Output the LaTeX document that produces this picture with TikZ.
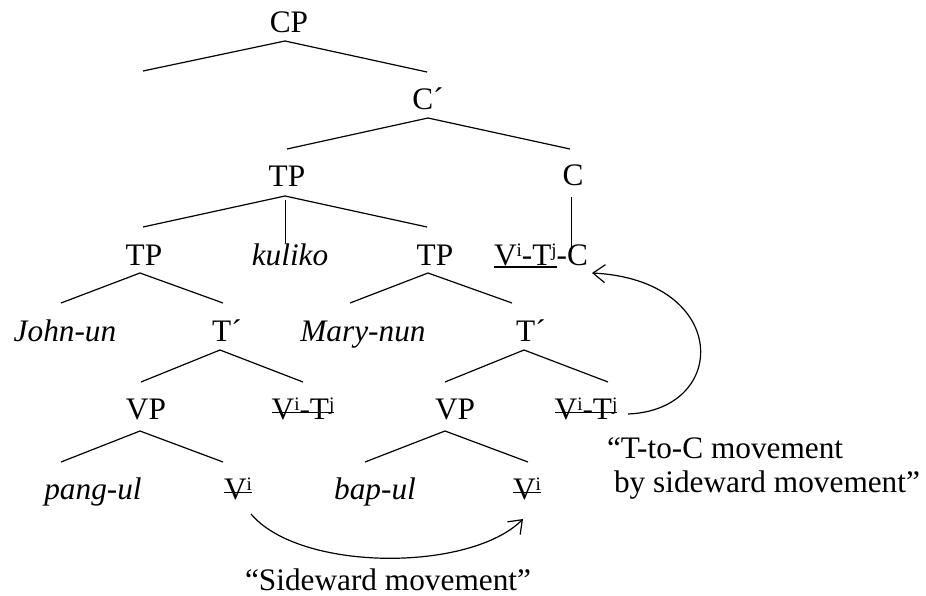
\documentclass[tikz,border=0pt]{standalone}
\usepackage{fontspec}
\setmainfont{Liberation Serif}
\usetikzlibrary{arrows.meta,calc}
\newsavebox\stbox
\newcommand\sups[1]{\raisebox{8.5pt}{\fontsize{19}{19}\selectfont #1}}
\newcommand\strk[1]{\sbox\stbox{#1}\rlap{\usebox\stbox}\rule[6pt]{\wd\stbox}{1.5pt}}
\newcommand\undl[1]{\sbox\stbox{#1}\rlap{\usebox\stbox}\rule[-3pt]{\wd\stbox}{1.6pt}}
\begin{document}
\begin{tikzpicture}[x=1pt,y=-1pt,
  every node/.style={inner sep=0pt,outer sep=0pt,font=\fontsize{31.3}{34}\selectfont},
  lab/.style={anchor=base},
  br/.style={line width=1.2pt},
  mv/.style={line width=1.2pt,-{Straight Barb[length=12pt,width=18pt,line width=1.2pt]}}]
\useasboundingbox (0,0) rectangle (926,596);
% nodes
\node[lab] (cp) at (289,33) {CP};
\node[lab] (cbar) at (428,110) {C´};
\node[lab] (tp) at (287,187) {TP};
\node[lab] (c) at (573,186) {C};
\node[lab] (tpL) at (144,265) {TP};
\node[lab] (kuliko) at (290,265) {\itshape kuliko};
\node[lab] (tpR) at (435,265) {TP};
\node[anchor=base west] (vtc) at (494,265) {\undl{V\sups{i}-T\sups{j}}-C};
\node[lab] (john) at (65,341) {\itshape John-un};
\node[lab] (tbarL) at (227,341) {T´};
\node[lab] (mary) at (363,341) {\itshape Mary-nun};
\node[lab] (tbarR) at (531,341) {T´};
\node[lab] (vpL) at (146,419) {VP};
\node[lab] (vtL) at (303,419) {\strk{V\sups{i}-T\sups{j}}};
\node[lab] (vpR) at (455,419) {VP};
\node[lab] (vtR) at (586,419) {\strk{V\sups{i}-T\sups{j}}};
\node[lab] (pang) at (93,499) {\itshape pang-ul};
\node[lab] (vL) at (238,499) {\strk{V\sups{i}}};
\node[lab] (bap) at (375,499) {\itshape bap-ul};
\node[lab] (vR) at (527,499) {\strk{V\sups{i}}};
\node[anchor=base west] (tc1) at (607,458) {“T-to-C movement};
\node[anchor=base west] (tc2) at (614,492) {by sideward movement”};
\node[lab] (side) at (388,590) {“Sideward movement”};
\coordinate (cpspec) at (143,71);
% branches
\draw[br] ([xshift=-4pt,yshift=-8pt]cp.base) -- (cpspec);
\draw[br] ([xshift=-4pt,yshift=-8pt]cp.base) -- ([xshift=-1pt,yshift=38pt]cbar.base);
\draw[br] ([yshift=-8pt]cbar.base) -- ([yshift=38pt]tp.base);
\draw[br] ([yshift=-8pt]cbar.base) -- ([xshift=-3pt,yshift=37pt]c.base);
\draw[br] ([xshift=-2pt,yshift=-9pt]tp.base) -- ([xshift=-1pt,yshift=38pt]tpL.base);
\draw[br] ([xshift=-2pt,yshift=-9pt]tp.base) -- ([xshift=-8pt,yshift=38pt]tpR.base);
\draw[line width=1pt] ([xshift=-2pt,yshift=-13pt]tp.base) -- ([xshift=-5pt,yshift=22pt]kuliko.base);
\draw[line width=1pt] ([xshift=-2pt,yshift=-11pt]c.base) -- ([xshift=77pt,yshift=13pt]vtc.base west);
\draw[br] ([xshift=-4pt,yshift=-8pt]tpL.base) -- ([xshift=-4pt,yshift=38pt]john.base);
\draw[br] ([xshift=-4pt,yshift=-8pt]tpL.base) -- ([xshift=-4pt,yshift=38pt]tbarL.base);
\draw[br] ([xshift=-7pt,yshift=-8pt]tpR.base) -- ([xshift=-13pt,yshift=38pt]mary.base);
\draw[br] ([xshift=-7pt,yshift=-8pt]tpR.base) -- ([xshift=-19pt,yshift=38pt]tbarR.base);
\draw[br] ([xshift=-7pt,yshift=-9pt]tbarL.base) -- ([xshift=-5pt,yshift=37pt]vpL.base);
\draw[br] ([xshift=-7pt,yshift=-9pt]tbarL.base) -- ([yshift=37pt]vtL.base);
\draw[br] ([xshift=-7pt,yshift=-9pt]tbarR.base) -- ([xshift=-10pt,yshift=37pt]vpR.base);
\draw[br] ([xshift=-7pt,yshift=-9pt]tbarR.base) -- ([xshift=22pt,yshift=37pt]vtR.base);
\draw[br] ([xshift=-6pt,yshift=-12pt]vpL.base) -- ([xshift=-32pt,yshift=37pt]pang.base);
\draw[br] ([xshift=-6pt,yshift=-12pt]vpL.base) -- ([xshift=-15pt,yshift=37pt]vL.base);
\draw[br] ([xshift=-10pt,yshift=-12pt]vpR.base) -- ([xshift=-10pt,yshift=37pt]bap.base);
\draw[br] ([xshift=-10pt,yshift=-12pt]vpR.base) -- ([xshift=1pt,yshift=37pt]vR.base);
% movement arrows
\draw[mv] ([xshift=13pt,yshift=-15pt]vL.base) .. controls +(49,58) and +(-53,53) .. ([xshift=-4pt,yshift=-20pt]vR.base);
\draw[mv] ([xshift=42pt,yshift=5pt]vtR.base) .. controls +(102,-4) and +(138,7) .. ([xshift=98pt,yshift=-8pt]vtc.base west);
\end{tikzpicture}
\end{document}
